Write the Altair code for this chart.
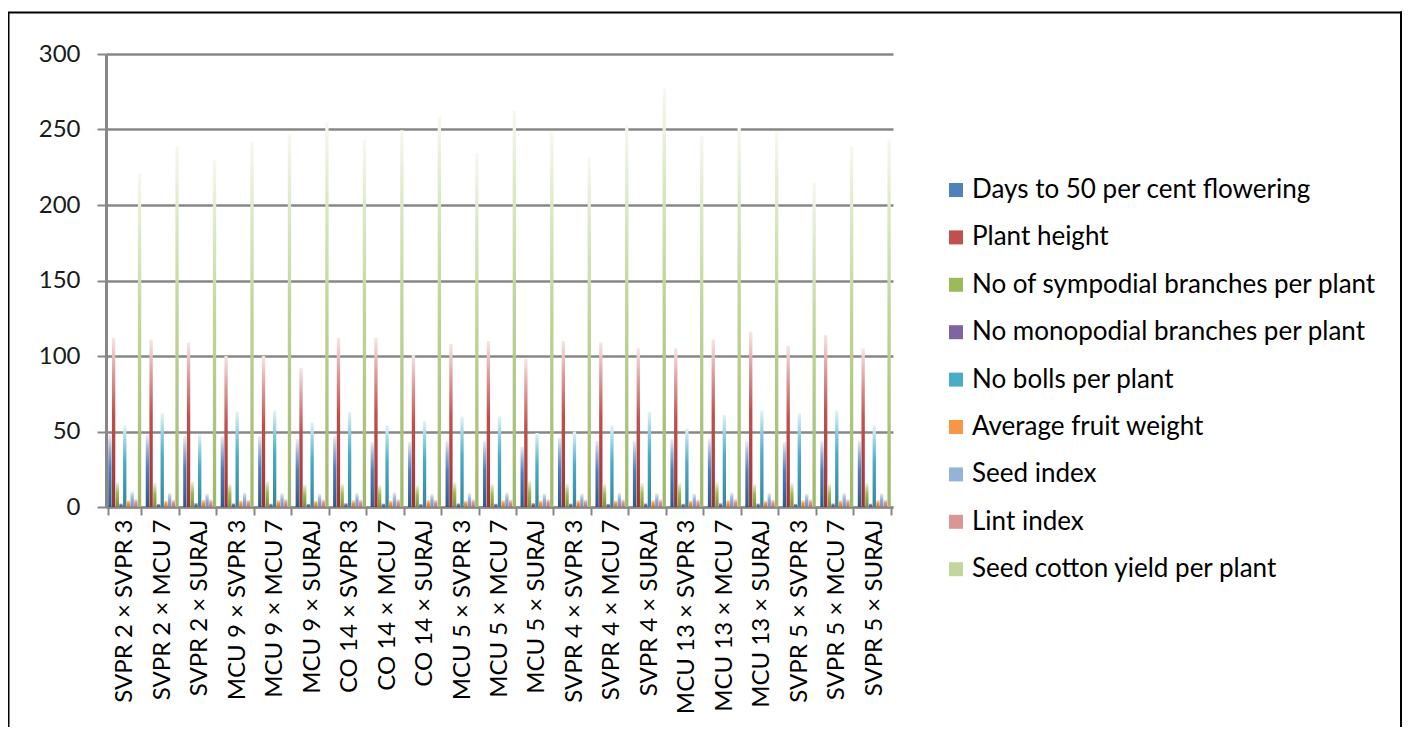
import altair as alt
import pandas as pd

crosses = ["SVPR 2 × SVPR 3", "SVPR 2 ×  MCU 7", "SVPR 2 ×  SURAJ", "MCU 9 ×  SVPR 3",
           "MCU 9 × MCU 7", "MCU 9 × SURAJ", "CO 14  × SVPR 3", "CO 14  × MCU 7",
           "CO 14 ×  SURAJ", "MCU 5  × SVPR 3", "MCU 5 × MCU 7", "MCU 5 × SURAJ",
           "SVPR 4  × SVPR 3", "SVPR 4  × MCU 7", "SVPR 4 × SURAJ", "MCU 13  × SVPR 3",
           "MCU 13 × MCU 7", "MCU 13 ×  SURAJ", "SVPR 5  × SVPR 3", "SVPR 5 × MCU 7",
           "SVPR 5 × SURAJ"]

series = ["Days to 50 per cent flowering", "Plant height", "No of sympodial branches per plant",
          "No monopodial branches per plant", "No bolls per plant", "Average fruit weight",
          "Seed index", "Lint index", "Seed cotton yield per plant"]

days_flowering = [48, 48, 47, 47, 47, 45, 47, 43, 43, 44, 44, 40, 46, 44, 44, 45, 45, 44, 43, 44, 44]
plant_height = [112, 111, 109, 100, 100, 92, 112, 112, 101, 108, 110, 98, 110, 109, 105, 105, 111, 116, 107, 114, 105]
sympodial = [16.5, 16, 17, 15.5, 17, 15, 15.5, 14.5, 14.5, 16.5, 15.5, 17.5, 15.5, 15.5, 16, 16, 16.5, 15.5, 16, 15.5, 16]
monopodial = [2.5, 2.2, 2.8, 2.6, 2.4, 2.3, 2.7, 2.5, 2.2, 2.6, 2.4, 2.8, 2.5, 2.3, 2.6, 2.4, 2.7, 2.5, 2.3, 2.6, 2.4]
bolls = [54, 62, 48, 63, 64, 56, 63, 54, 57, 60, 60, 49, 50, 54, 63, 52, 61, 64, 62, 64, 54]
fruit_weight = [4.6, 4.4, 4.8, 4.5, 4.7, 4.3, 4.6, 4.5, 4.8, 4.4, 4.6, 4.5, 4.7, 4.4, 4.6, 4.5, 4.8, 4.3, 4.6, 4.5, 4.7]
seed_index = [10.2, 9.5, 8.8, 9.6, 9.2, 8.9, 9.4, 9.8, 8.7, 9.3, 9.6, 9.1, 8.8, 9.5, 9.2, 9.0, 9.7, 9.3, 8.9, 9.4, 9.1]
lint_index = [5.4, 5.0, 5.2, 4.9, 5.3, 5.1, 5.0, 5.4, 4.8, 5.2, 5.0, 5.3, 4.9, 5.1, 5.2, 5.0, 5.3, 4.9, 5.1, 5.2, 5.0]
yield_plant = [221, 238.5, 230, 242, 246.5, 255, 243, 249.5, 258.5, 234.5, 262.5, 248, 232, 253, 277, 245.5, 251, 248, 214.5, 238.5, 243.5]

base_colors = ["#4F81BD", "#C0504D", "#9BBB59", "#8064A2", "#4BACC6", "#F79646", "#95B3D7", "#D99694", "#C3D69B"]
dark_colors = ["#2C5A8F", "#9A3331", "#76923C", "#5F497A", "#31859C", "#E36C09", "#6D8FBF", "#C0706D", "#9CB86A"]
mid_colors = ["#9AB5D8", "#DE9E9C", "#C6DA9E", "#B6A4CB", "#98D2E2", "#FAC49A", "#BFD2E8", "#EBC4C3", "#DCE8C4"]
pale_colors = ["#E8EEF7", "#F7E6E5", "#F1F6E7", "#ECE8F2", "#E4F3F7", "#FDEEE2", "#EFF4FA", "#F9ECEB", "#F6F9F0"]

values = [days_flowering, plant_height, sympodial, monopodial, bolls, fruit_weight,
          seed_index, lint_index, yield_plant]

rows = []
for s, vals in zip(series, values):
    for c, v in zip(crosses, vals):
        rows.append({"cross": c, "series": s, "value": v})
df = pd.DataFrame(rows)

FONT = "Lato"
GRID = "#878787"

x_enc = alt.X("cross:N", sort=crosses, title=None,
              scale=alt.Scale(paddingInner=0.12, paddingOuter=0.06),
              axis=alt.Axis(labelAngle=-90, labelFont=FONT, labelFontSize=24, labelColor="#000000",
                            labelPadding=4, tickBand="extent", tickSize=8, tickColor=GRID,
                            tickWidth=2, domainColor=GRID, domainWidth=2, grid=False,
                            labelLimit=400))
xo_enc = alt.XOffset("series:N", sort=series,
                     scale=alt.Scale(domain=series, paddingInner=0.1))
y_enc = alt.Y("value:Q", title=None,
              scale=alt.Scale(domain=[0, 300], nice=False),
              axis=alt.Axis(values=[0, 50, 100, 150, 200, 250, 300], labelFont=FONT,
                            labelFontSize=24, labelColor="#1a1a1a", labelPadding=17,
                            tickSize=9, tickColor=GRID, tickWidth=2, domainColor=GRID,
                            domainWidth=3, gridColor=GRID, gridWidth=2.5))

base = alt.Chart(df)

legend_layer = base.mark_bar(opacity=0).encode(
    x=x_enc, xOffset=xo_enc, y=y_enc,
    color=alt.Color("series:N", sort=series,
                    scale=alt.Scale(domain=series, range=base_colors),
                    legend=alt.Legend(title=None, orient="none", legendX=837, legendY=123,
                                      symbolType="square", symbolSize=196, symbolOpacity=1,
                                      symbolStrokeWidth=0, labelFont=FONT, labelFontSize=26,
                                      labelColor="#000000", labelLimit=600, rowPadding=21.4,
                                      labelOffset=3)),
)

layers = [legend_layer]
for s, dk, bc, md, pl in zip(series, dark_colors, base_colors, mid_colors, pale_colors):
    grad = alt.Gradient(gradient="linear", x1=0, x2=0, y1=1, y2=0,
                        stops=[alt.GradientStop(color=dk, offset=0),
                               alt.GradientStop(color=bc, offset=0.55),
                               alt.GradientStop(color=md, offset=0.8),
                               alt.GradientStop(color=pl, offset=1)])
    layers.append(
        base.transform_filter(alt.datum.series == s)
        .mark_bar(color=grad)
        .encode(x=x_enc, xOffset=xo_enc, y=y_enc)
    )

frame_df = pd.DataFrame({"k": [0]})
frame = alt.Chart(frame_df)
left_line = frame.mark_rule(color="#000000", strokeWidth=2).encode(
    x=alt.value(-97.5), y=alt.value(-41.5), y2=alt.value(700))
top_line = frame.mark_rule(color="#000000", strokeWidth=2).encode(
    x=alt.value(-98.5), x2=alt.value(1296), y=alt.value(-41.5))
right_line = frame.mark_rule(color="#000000", strokeWidth=2).encode(
    x=alt.value(1295), y=alt.value(-42.5), y2=alt.value(700))
layers += [left_line, top_line, right_line]

chart = alt.layer(*layers).properties(
    width=787, height=453,
    autosize=alt.AutoSizeParams(type="none"),
    padding={"left": 98, "top": 46, "right": 509, "bottom": 220},
    background="#ffffff",
).configure_view(strokeWidth=0)

chart.save("out.html", embed_options={"renderer": "svg", "actions": False})
